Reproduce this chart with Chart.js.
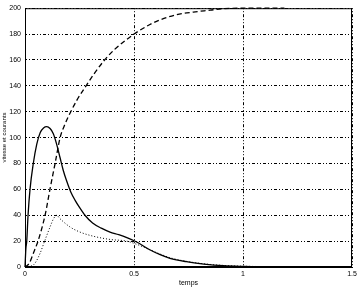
<!DOCTYPE html>
<html>
<head>
<meta charset="utf-8">
<script src="https://cdn.jsdelivr.net/npm/chart.js@4/dist/chart.umd.min.js"></script>
<style>
  html, body { margin: 0; padding: 0; background: #fff; }
  #wrap { width: 363px; height: 288px; }
</style>
</head>
<body>
<div id="wrap"><canvas id="c" width="363" height="288"></canvas></div>
<script>
// values
const tVitesse = [0, 0.004, 0.008, 0.014, 0.023, 0.038, 0.054, 0.07, 0.085, 0.1, 0.115, 0.13, 0.145, 0.16, 0.175, 0.19, 0.21, 0.23, 0.25, 0.275, 0.31, 0.35, 0.39, 0.43, 0.47, 0.51, 0.57, 0.62, 0.665, 0.74, 0.82, 0.91, 1.0, 1.09];
const vitesse  = [0, 14, 20, 40, 60, 80, 95, 104, 107.5, 108.5, 107, 103, 95, 85, 75, 67, 58, 51.5, 46, 40, 34, 30, 27, 25, 22.5, 19.5, 13.5, 9.5, 6.7, 4.1, 2.3, 1, 0.5, 0.3];

const tCourant1 = [0, 0.02, 0.038, 0.061, 0.092, 0.115, 0.138, 0.161, 0.185, 0.21, 0.24, 0.28, 0.32, 0.365, 0.41, 0.46, 0.5, 0.573, 0.62, 0.696, 0.772, 0.85, 0.9, 1.0, 1.19];
const courant1  = [0, 3, 10.5, 20.7, 40, 60.5, 80, 100, 111, 120, 129.5, 140, 150, 160, 168, 175, 180, 187.4, 191, 195, 197, 198.5, 199.5, 200, 200];

const tCourant2 = [0, 0.02, 0.038, 0.05, 0.069, 0.09, 0.115, 0.13, 0.145, 0.16, 0.206, 0.252, 0.313, 0.39, 0.466, 0.51, 0.558, 0.62, 0.665, 0.74, 0.82, 0.91, 1.0, 1.09];
const courant2  = [0, 0.5, 1.5, 4, 10.5, 20, 31, 37, 40, 37.4, 31, 27, 23.8, 21.3, 20, 17.7, 14.4, 10, 7.2, 4.4, 2.5, 1.2, 0.6, 0.3];

const xTicks = [0, 0.5, 1, 1.5];
const yTicks = [0, 20, 40, 60, 80, 100, 120, 140, 160, 180, 200];

const pts = (ts, vs) => ts.map((t, i) => ({ x: t, y: vs[i] }));

const frame = {
  id: "frame",
  afterDatasetsDraw(chart) {
    const { ctx, chartArea: a } = chart;
    ctx.save();
    ctx.strokeStyle = "#000";
    ctx.lineWidth = 1;
    ctx.strokeRect(a.left + 0.5, a.top + 0.5, a.right - a.left - 1, a.bottom - a.top - 1);
    ctx.restore();
  }
};

const font = { family: "'Liberation Sans', Arial, sans-serif", size: 7 };
const gridDash = [1, 2, 1, 2, 3, 2];

new Chart(document.getElementById("c").getContext("2d"), {
  type: "line",
  data: {
    datasets: [
      {
        label: "vitesse",
        data: pts(tVitesse, vitesse),
        borderColor: "#000",
        borderWidth: 1.3,
        pointRadius: 0,
        cubicInterpolationMode: "monotone",
        clip: 3
      },
      {
        label: "courant 1",
        data: pts(tCourant1, courant1),
        borderColor: "#000",
        borderWidth: 1.3,
        borderDash: [5, 3],
        pointRadius: 0,
        cubicInterpolationMode: "monotone",
        clip: 3
      },
      {
        label: "courant 2",
        data: pts(tCourant2, courant2),
        borderColor: "#000",
        borderWidth: 1,
        borderDash: [1, 2],
        pointRadius: 0,
        cubicInterpolationMode: "monotone",
        clip: 3
      }
    ]
  },
  options: {
    responsive: false,
    animation: false,
    events: [],
    layout: { padding: { top: 7, right: 11, left: 0, bottom: 0 } },
    plugins: { legend: { display: false }, tooltip: { enabled: false } },
    scales: {
      x: {
        type: "linear",
        min: 0,
        max: 1.5,
        afterBuildTicks: (s) => { s.ticks = xTicks.map((v) => ({ value: v })); },
        afterFit: (s) => { s.height = 21; },
        ticks: { color: "#000", font, padding: 3, maxRotation: 0, callback: (v) => String(v) },
        grid: { color: "#000", lineWidth: 1, drawTicks: false },
        border: { display: true, color: "#000", dash: gridDash },
        title: { display: true, text: "temps", color: "#000", font, padding: { top: 0, bottom: 1 } }
      },
      y: {
        min: 0,
        max: 200,
        afterBuildTicks: (s) => { s.ticks = yTicks.map((v) => ({ value: v })); },
        afterFit: (s) => { s.width = 25; },
        ticks: { color: "#000", font, padding: 4 },
        grid: { color: "#000", lineWidth: 1, drawTicks: false },
        border: { display: true, color: "#000", dash: gridDash },
        title: { display: true, text: "vitesse et courants", color: "#000", font: { family: font.family, size: 6 }, padding: { top: 1, bottom: 0 } }
      }
    }
  },
  plugins: [frame]
});
</script>
</body>
</html>
